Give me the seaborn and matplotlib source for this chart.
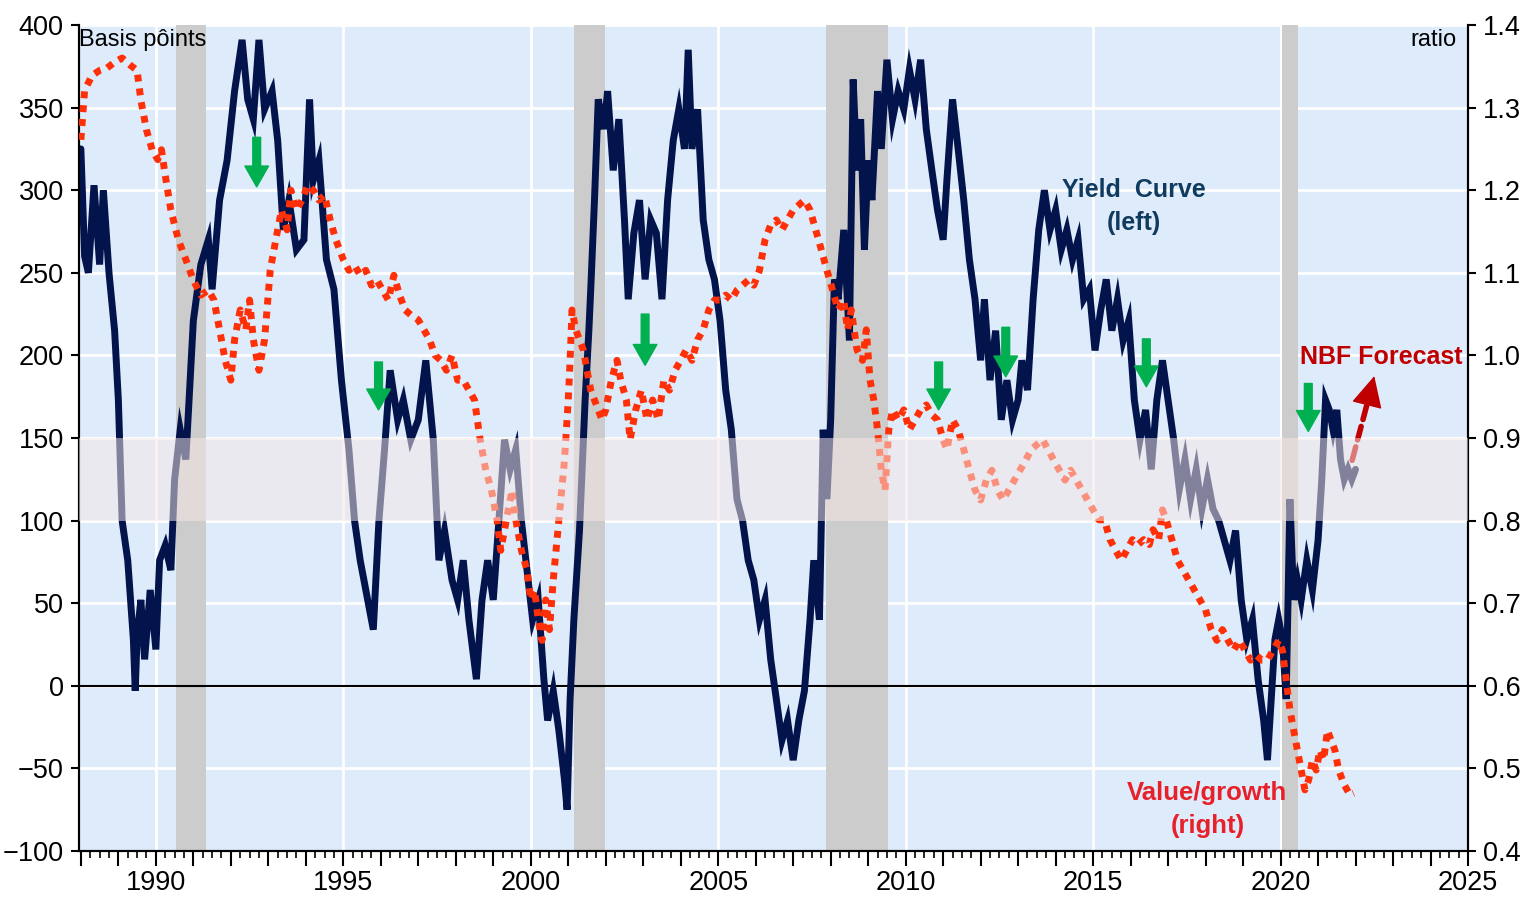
import numpy as np
import pandas as pd
import seaborn as sns
import matplotlib.pyplot as plt
from matplotlib.ticker import MultipleLocator, FuncFormatter

# yield curve (bp, left axis)
yc_year = [1988.0, 1988.1, 1988.2, 1988.35, 1988.5, 1988.6, 1988.75, 1988.9, 1989.0, 1989.1, 1989.25,
           1989.4, 1989.45, 1989.5, 1989.6, 1989.7, 1989.85, 1990.0, 1990.1, 1990.25, 1990.4, 1990.5,
           1990.65, 1990.8, 1991.0, 1991.2, 1991.4, 1991.5, 1991.7, 1991.9, 1992.1, 1992.3, 1992.45,
           1992.6, 1992.75, 1992.9, 1993.1, 1993.25, 1993.4, 1993.55, 1993.75, 1993.95, 1994.1, 1994.2,
           1994.35, 1994.55, 1994.75, 1994.95, 1995.15, 1995.3, 1995.45, 1995.6, 1995.8, 1995.95,
           1996.1, 1996.25, 1996.45, 1996.6, 1996.8, 1997.0, 1997.2, 1997.4, 1997.55, 1997.7, 1997.9,
           1998.05, 1998.2, 1998.35, 1998.55, 1998.7, 1998.85, 1999.0, 1999.15, 1999.3, 1999.45,
           1999.6, 1999.75, 1999.9, 2000.05, 2000.2, 2000.35, 2000.45, 2000.6, 2000.75, 2000.9,
           2000.97, 2001.05, 2001.15, 2001.3, 2001.45, 2001.55, 2001.6, 2001.7, 2001.8, 2001.95,
           2002.05, 2002.2, 2002.35, 2002.5, 2002.6, 2002.75, 2002.9, 2003.05, 2003.2, 2003.35,
           2003.5, 2003.65, 2003.8, 2003.95, 2004.1, 2004.2, 2004.3, 2004.45, 2004.6, 2004.75,
           2004.9, 2005.05, 2005.2, 2005.35, 2005.5, 2005.65, 2005.8, 2005.95, 2006.1, 2006.25,
           2006.4, 2006.55, 2006.7, 2006.85, 2007.0, 2007.15, 2007.3, 2007.45, 2007.55, 2007.7,
           2007.8, 2007.9, 2008.0, 2008.1, 2008.2, 2008.35, 2008.5, 2008.6, 2008.7, 2008.8, 2008.9,
           2009.0, 2009.1, 2009.25, 2009.35, 2009.5, 2009.65, 2009.8, 2009.95, 2010.1, 2010.25,
           2010.4, 2010.55, 2010.7, 2010.85, 2011.0, 2011.1, 2011.25, 2011.4, 2011.55, 2011.7,
           2011.85, 2012.0, 2012.1, 2012.25, 2012.4, 2012.55, 2012.7, 2012.85, 2013.0, 2013.1,
           2013.25, 2013.4, 2013.55, 2013.7, 2013.85, 2014.0, 2014.15, 2014.3, 2014.45, 2014.6,
           2014.75, 2014.9, 2015.05, 2015.2, 2015.35, 2015.5, 2015.65, 2015.8, 2015.95, 2016.1,
           2016.25, 2016.4, 2016.55, 2016.7, 2016.85, 2017.0, 2017.15, 2017.3, 2017.45, 2017.6,
           2017.75, 2017.9, 2018.05, 2018.2, 2018.35, 2018.5, 2018.65, 2018.8, 2018.95, 2019.1,
           2019.25, 2019.4, 2019.55, 2019.65, 2019.75, 2019.85, 2019.95, 2020.05, 2020.15, 2020.25,
           2020.35, 2020.45, 2020.55, 2020.7, 2020.85, 2021.0, 2021.1, 2021.2, 2021.3, 2021.4,
           2021.5, 2021.6, 2021.7, 2021.8, 2021.9, 2022.0]
yc_bp = [325, 260, 250, 303, 255, 300, 250, 215, 173, 100, 76,
         28, -3, 30, 52, 16, 58, 22, 76, 85, 70, 125,
         155, 137, 221, 255, 270, 240, 294, 318, 360, 391, 355,
         343, 391, 349, 360, 330, 276, 294, 264, 270, 355, 306,
         318, 258, 240, 185, 143, 100, 76, 58, 34, 100,
         143, 191, 161, 173, 149, 161, 197, 149, 76, 94, 64,
         52, 76, 40, 4, 52, 76, 52, 100, 149, 131,
         143, 100, 70, 40, 52, 4, -21, -3, -27, -57,
         -75, -8, 40, 94, 173, 215, 240, 294, 355, 337,
         360, 312, 343, 282, 234, 274, 294, 246, 282, 274,
         234, 294, 330, 349, 325, 385, 325, 349, 282, 258,
         246, 221, 179, 155, 113, 100, 76, 64, 40, 52,
         16, -8, -33, -21, -45, -21, -3, 40, 76, 40,
         155, 113, 161, 246, 234, 276, 209, 367, 312, 343, 264,
         318, 294, 360, 325, 379, 343, 360, 349, 373, 355,
         379, 337, 312, 288, 270, 306, 355, 325, 294, 258,
         234, 197, 234, 185, 215, 161, 185, 161, 173, 197,
         179, 234, 276, 300, 276, 288, 264, 276, 258, 270,
         234, 240, 203, 227, 246, 215, 234, 209, 221, 173,
         149, 167, 131, 173, 197, 173, 149, 119, 137, 113,
         131, 107, 125, 107, 100, 88, 76, 94, 52, 28,
         40, 4, -21, -45, -8, 28, 40, 28, -8, 113,
         52, 64, 52, 76, 58, 88, 125, 173, 167, 155,
         167, 137, 125, 131, 125, 131]

# value / growth ratio (right axis)
vg_year = [1988.0, 1988.1, 1988.3, 1988.5, 1988.7, 1988.9, 1989.1, 1989.3, 1989.5, 1989.6, 1989.75,
           1989.9, 1990.05, 1990.15, 1990.25, 1990.4, 1990.6, 1990.8, 1991.0, 1991.2, 1991.4, 1991.55,
           1991.7, 1991.85, 1992.0, 1992.1, 1992.25, 1992.4, 1992.5, 1992.6, 1992.75, 1992.9, 1993.05,
           1993.2, 1993.35, 1993.5, 1993.6, 1993.75, 1993.9, 1994.05, 1994.2, 1994.35, 1994.5, 1994.65,
           1994.8, 1995.0, 1995.15, 1995.3, 1995.45, 1995.6, 1995.75, 1995.9, 1996.05, 1996.2, 1996.35,
           1996.5, 1996.65, 1996.8, 1997.0, 1997.15, 1997.3, 1997.45, 1997.6, 1997.75, 1997.9, 1998.05,
           1998.2, 1998.35, 1998.5, 1998.65, 1998.8, 1998.95, 1999.1, 1999.2, 1999.35, 1999.5, 1999.6,
           1999.75, 1999.9, 2000.0, 2000.1, 2000.2, 2000.3, 2000.4, 2000.5, 2000.6, 2000.7, 2000.8,
           2000.9, 2001.0, 2001.05, 2001.1, 2001.2, 2001.3, 2001.4, 2001.5, 2001.6, 2001.7, 2001.8,
           2001.9, 2002.0, 2002.15, 2002.3, 2002.4, 2002.55, 2002.65, 2002.8, 2002.95, 2003.1, 2003.25,
           2003.4, 2003.55, 2003.7, 2003.85, 2004.0, 2004.15, 2004.3, 2004.45, 2004.6, 2004.75, 2004.9,
           2005.05, 2005.2, 2005.35, 2005.5, 2005.65, 2005.8, 2005.95, 2006.1, 2006.25, 2006.4, 2006.55,
           2006.7, 2006.85, 2007.0, 2007.15, 2007.3, 2007.45, 2007.6, 2007.75, 2007.9, 2008.05, 2008.2,
           2008.35, 2008.45, 2008.55, 2008.7, 2008.85, 2008.95, 2009.05, 2009.15, 2009.25, 2009.35,
           2009.45, 2009.55, 2009.65, 2009.8, 2009.95, 2010.1, 2010.25, 2010.4, 2010.55, 2010.7, 2010.85,
           2011.0, 2011.1, 2011.25, 2011.4, 2011.55, 2011.7, 2011.85, 2012.0, 2012.15, 2012.3, 2012.45,
           2012.6, 2012.75, 2012.9, 2013.05, 2013.2, 2013.35, 2013.5, 2013.65, 2013.8, 2013.95, 2014.1,
           2014.25, 2014.4, 2014.55, 2014.7, 2014.85, 2015.0, 2015.15, 2015.3, 2015.45, 2015.6, 2015.75,
           2015.9, 2016.05, 2016.2, 2016.35, 2016.5, 2016.6, 2016.75, 2016.85, 2016.95, 2017.1, 2017.25,
           2017.4, 2017.55, 2017.7, 2017.85, 2018.0, 2018.15, 2018.3, 2018.45, 2018.6, 2018.75, 2018.9,
           2019.05, 2019.2, 2019.35, 2019.5, 2019.65, 2019.8, 2019.95, 2020.05, 2020.15, 2020.25, 2020.35,
           2020.45, 2020.55, 2020.65, 2020.75, 2020.85, 2020.95, 2021.05, 2021.15, 2021.25, 2021.35,
           2021.45, 2021.55, 2021.7, 2021.85, 2021.95]
vg_ratio = [1.261, 1.321, 1.339, 1.345, 1.348, 1.355, 1.360, 1.352, 1.345, 1.309, 1.273,
            1.249, 1.237, 1.249, 1.218, 1.176, 1.140, 1.116, 1.091, 1.073, 1.079, 1.067,
            1.031, 0.994, 0.970, 1.019, 1.055, 1.031, 1.067, 1.019, 0.982, 1.019, 1.103,
            1.140, 1.176, 1.152, 1.200, 1.176, 1.188, 1.206, 1.200, 1.188, 1.194, 1.164,
            1.140, 1.116, 1.103, 1.109, 1.097, 1.103, 1.085, 1.091, 1.079, 1.067, 1.097,
            1.073, 1.055, 1.049, 1.043, 1.031, 1.019, 1.000, 0.994, 0.982, 1.000, 0.970,
            0.970, 0.958, 0.946, 0.898, 0.861, 0.837, 0.801, 0.764, 0.801, 0.837, 0.801,
            0.764, 0.740, 0.704, 0.716, 0.680, 0.655, 0.704, 0.668, 0.728, 0.777, 0.825,
            0.873, 0.946, 0.994, 1.055, 1.031, 1.019, 1.007, 0.982, 0.958, 0.946, 0.934,
            0.922, 0.934, 0.970, 0.994, 0.970, 0.946, 0.898, 0.934, 0.958, 0.922, 0.946,
            0.922, 0.970, 0.958, 0.982, 0.994, 1.007, 0.994, 1.019, 1.031, 1.055, 1.067,
            1.067, 1.073, 1.067, 1.079, 1.085, 1.091, 1.085, 1.103, 1.140, 1.158, 1.164,
            1.152, 1.164, 1.176, 1.182, 1.188, 1.176, 1.152, 1.128, 1.103, 1.079, 1.055,
            1.067, 1.031, 1.055, 1.007, 0.994, 1.031, 0.970, 0.946, 0.910, 0.861,
            0.837, 0.910, 0.934, 0.922, 0.934, 0.910, 0.922, 0.934, 0.940, 0.928, 0.922,
            0.898, 0.886, 0.922, 0.910, 0.886, 0.861, 0.837, 0.825, 0.849, 0.861, 0.837,
            0.825, 0.837, 0.849, 0.861, 0.873, 0.886, 0.892, 0.898, 0.886, 0.873, 0.861,
            0.849, 0.861, 0.849, 0.837, 0.825, 0.813, 0.801, 0.801, 0.777, 0.764, 0.752,
            0.764, 0.777, 0.771, 0.777, 0.771, 0.789, 0.777, 0.813, 0.801, 0.777, 0.752,
            0.740, 0.728, 0.716, 0.704, 0.692, 0.668, 0.655, 0.668, 0.655, 0.643, 0.655,
            0.643, 0.631, 0.637, 0.631, 0.631, 0.643, 0.655, 0.643, 0.607, 0.571, 0.546,
            0.522, 0.498, 0.474, 0.486, 0.510, 0.498, 0.522, 0.510, 0.546, 0.534,
            0.522, 0.498, 0.480, 0.468, 0.470]

recessions = [(1990.55, 1991.35), (2001.15, 2001.98), (2007.87, 2009.52), (2020.05, 2020.47)]
# green arrows: (year, top bp, tip bp)
signals = [(1992.69, 332, 302), (1995.94, 196, 167), (2003.05, 225, 194), (2010.88, 196, 167),
           (2012.67, 217, 187), (2016.42, 210, 181), (2020.74, 183, 154)]
forecast_from = (2021.91, 0.873)
forecast_mid = (2022.36, 0.950)
forecast_to = (2022.50, 0.975)

NAVY = "#03134b"
RED = "#ff3008"
BG = "#deebfb"

sns.set_theme(style="white")
plt.rcParams['font.family'] = ['Liberation Sans', 'DejaVu Sans']

yc = pd.DataFrame({"year": yc_year, "bp": yc_bp})
vg = pd.DataFrame({"year": vg_year, "ratio": vg_ratio})

fig = plt.figure(figsize=(15.36, 9.01), dpi=100)
ax = fig.add_axes([79 / 1536, 1 - 851 / 901, (1468 - 79) / 1536, (851 - 25) / 901])
ax.set_facecolor(BG)
ax.set_axisbelow(True)

for start, end in recessions:
    ax.axvspan(start, end, color="#cccccc", lw=0, zorder=1)

sns.lineplot(data=yc, x="year", y="bp", ax=ax, color=NAVY, lw=5, estimator=None,
             solid_joinstyle="miter", zorder=3)
ax.axhline(0, color="black", lw=1.5, zorder=2)

ax.set_xlim(1987.95, 2025)
ax.set_ylim(-100, 400)
ax.yaxis.set_major_locator(MultipleLocator(50))
ax.xaxis.set_major_locator(MultipleLocator(1))
ax.xaxis.set_minor_locator(MultipleLocator(0.25))
ax.xaxis.set_major_formatter(FuncFormatter(lambda v, p: f"{int(round(v))}" if round(v) % 5 == 0 else ""))
ax.grid(True, axis="y", color="white", lw=2)
for yr in range(1990, 2025, 5):
    ax.axvline(yr, color="white", lw=2, zorder=0.5)
ax.set_xlabel("")
ax.set_ylabel("")

ax2 = ax.twinx()
sns.lineplot(data=vg, x="year", y="ratio", ax=ax2, color=RED, lw=5, estimator=None,
             linestyle=(0, (1, 1)), dash_capstyle="butt", zorder=3)
ax2.set_ylim(0.4, 1.4)
ax2.yaxis.set_major_locator(MultipleLocator(0.1))
ax2.yaxis.set_major_formatter(FuncFormatter(lambda v, p: f"{v:.1f}"))
ax2.set_ylabel("")

# forecast arrow (dashed shaft + solid head), under the shaded band
ax2.annotate("", xy=forecast_mid, xytext=forecast_from,
             arrowprops=dict(arrowstyle="-", color="#c00000", lw=4, linestyle=(0, (2.5, 1.3)),
                             shrinkA=0, shrinkB=0), zorder=4)
ax2.annotate("", xy=forecast_to, xytext=forecast_mid,
             arrowprops=dict(arrowstyle="-|>,head_width=0.5,head_length=1.0", color="#c00000",
                             lw=1, mutation_scale=20, shrinkA=0, shrinkB=0), zorder=4)

# shaded zone 100-150 bp (0.8-0.9 ratio) on top of the lines
ax2.axhspan(0.8, 0.9, facecolor="#f7e8e6", alpha=0.52, lw=0, zorder=6)

for yr, top, tip in signals:
    ax.annotate("", xy=(yr, tip), xytext=(yr, top),
                arrowprops=dict(arrowstyle="simple,head_width=0.85,head_length=0.75,tail_width=0.28",
                                color="#00b050", mutation_scale=20, shrinkA=0, shrinkB=0), zorder=5)

for a in (ax, ax2):
    a.spines["top"].set_visible(False)
    for s in ("left", "right", "bottom"):
        a.spines[s].set_color("black")
        a.spines[s].set_linewidth(1.5)
    a.tick_params(axis="both", which="both", labelsize=19.5, colors="black", direction="out")
ax.tick_params(axis="y", left=True, length=6, width=1.5, pad=5)
ax.tick_params(axis="x", which="major", bottom=True, length=11, width=1.5, pad=3)
ax.tick_params(axis="x", which="minor", bottom=True, length=5, width=1.2)
ax2.tick_params(axis="y", right=True, length=6, width=1.5, pad=5)

ax.text(1987.95, 391, "Basis pôints", fontsize=17, ha="left", va="center", color="black", zorder=7)
ax.text(2024.7, 391, "ratio", fontsize=17, ha="right", va="center", color="black", zorder=7)
ax.text(2016.1, 300, "Yield  Curve", fontsize=18, fontweight="bold", color="#0f3b5f", ha="center", va="center", zorder=7)
ax.text(2016.1, 280, "(left)", fontsize=18, fontweight="bold", color="#0f3b5f", ha="center", va="center", zorder=7)
ax.text(2018.05, -65, "Value/growth", fontsize=18.5, fontweight="bold", color="#e8202a", ha="center", va="center", zorder=7)
ax.text(2018.05, -85, "(right)", fontsize=18.5, fontweight="bold", color="#e8202a", ha="center", va="center", zorder=7)
ax.text(2022.68, 199, "NBF Forecast", fontsize=18, fontweight="bold", color="#c00000", ha="center", va="center", zorder=7)

fig.savefig("out.png", dpi=100, facecolor="white")
